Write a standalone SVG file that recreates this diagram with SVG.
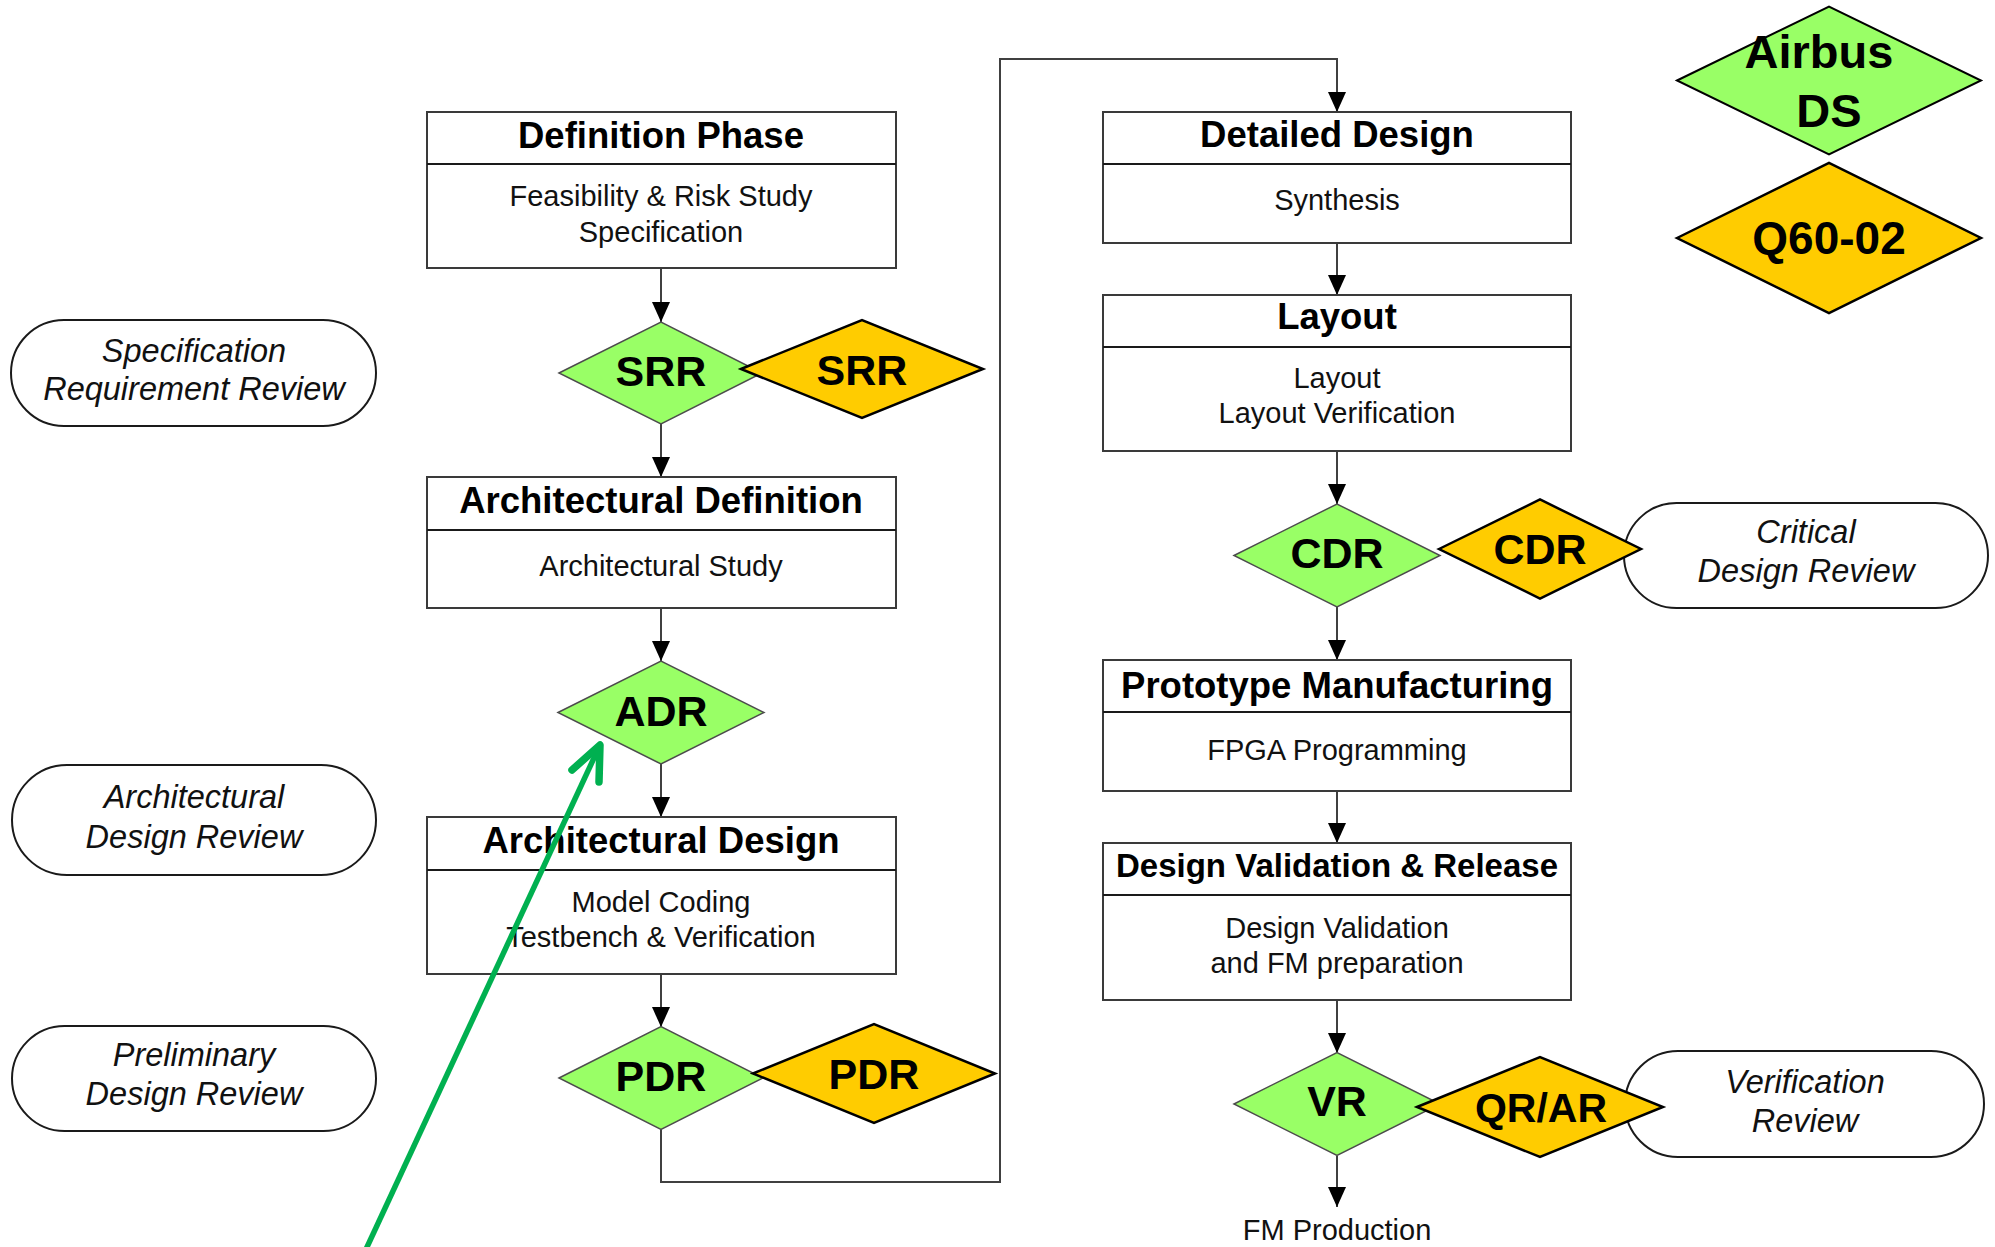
<svg xmlns="http://www.w3.org/2000/svg" width="1995" height="1247" viewBox="0 0 1995 1247">
<style>
.box{fill:#fff;stroke:#3a3a3a;stroke-width:2}
.dv{stroke:#1a1a1a;stroke-width:2}
.g{fill:#99FF66;stroke:#4d4d4d;stroke-width:1.5}
.o{fill:#FFCC00;stroke:#000;stroke-width:2.5}
.pill{fill:#fff;stroke:#1a1a1a;stroke-width:2}
.t{font-family:"Liberation Sans",Arial,sans-serif;font-weight:bold;font-size:36.5px;text-anchor:middle;fill:#000}
.b{font-family:"Liberation Sans",Arial,sans-serif;font-size:29px;text-anchor:middle;fill:#111}
.d{font-family:"Liberation Sans",Arial,sans-serif;font-weight:bold;font-size:43px;text-anchor:middle;fill:#000}
.i{font-family:"Liberation Sans",Arial,sans-serif;font-style:italic;font-size:32.5px;text-anchor:middle;fill:#111}
.c{fill:none;stroke:#404040;stroke-width:2}
</style>
<defs>
<marker id="ah" markerUnits="userSpaceOnUse" markerWidth="20" markerHeight="18" refX="20" refY="9" orient="auto">
<path d="M0,0 L20,9 L0,18 z" fill="#000"/>
</marker>
</defs>
<g id="connectors">
<line class="c" x1="661" y1="268" x2="661" y2="322" marker-end="url(#ah)"/>
<line class="c" x1="661" y1="424" x2="661" y2="477" marker-end="url(#ah)"/>
<line class="c" x1="661" y1="608" x2="661" y2="661" marker-end="url(#ah)"/>
<line class="c" x1="661" y1="764" x2="661" y2="817" marker-end="url(#ah)"/>
<line class="c" x1="661" y1="974" x2="661" y2="1027" marker-end="url(#ah)"/>
<path class="c" d="M661,1129 L661,1182 L1000,1182 L1000,59 L1337,59 L1337,112" marker-end="url(#ah)"/>
<line class="c" x1="1337" y1="243" x2="1337" y2="295" marker-end="url(#ah)"/>
<line class="c" x1="1337" y1="451" x2="1337" y2="504" marker-end="url(#ah)"/>
<line class="c" x1="1337" y1="607" x2="1337" y2="660" marker-end="url(#ah)"/>
<line class="c" x1="1337" y1="791" x2="1337" y2="843" marker-end="url(#ah)"/>
<line class="c" x1="1337" y1="1000" x2="1337" y2="1053" marker-end="url(#ah)"/>
<line class="c" x1="1337" y1="1156" x2="1337" y2="1207" marker-end="url(#ah)"/>
</g>
<g id="definition-phase">
<rect class="box" x="427" y="112" width="469" height="156"/>
<line class="dv" x1="427" y1="164" x2="896" y2="164"/>
<text class="t" x="661" y="148">Definition Phase</text>
<text class="b" x="661" y="206">Feasibility &amp; Risk Study</text>
<text class="b" x="661" y="242">Specification</text>
</g>
<g id="srr-green">
<polygon class="g" points="559,373 661,322 762,373 661,424"/>
<text class="d" x="661" y="386">SRR</text>
</g>
<g id="srr-orange">
<polygon class="o" points="741,369 862,320 983,369 862,418"/>
<text class="d" x="862" y="385">SRR</text>
</g>
<g id="arch-definition">
<rect class="box" x="427" y="477" width="469" height="131"/>
<line class="dv" x1="427" y1="530" x2="896" y2="530"/>
<text class="t" x="661" y="513">Architectural Definition</text>
<text class="b" x="661" y="576">Architectural Study</text>
</g>
<g id="adr">
<polygon class="g" points="558,712.5 661,661 764,712.5 661,764"/>
<text class="d" x="661" y="726">ADR</text>
</g>
<g id="arch-design">
<rect class="box" x="427" y="817" width="469" height="157"/>
<line class="dv" x1="427" y1="870" x2="896" y2="870"/>
<text class="t" x="661" y="853">Architectural Design</text>
<text class="b" x="661" y="912">Model Coding</text>
<text class="b" x="661" y="947">Testbench &amp; Verification</text>
</g>
<g id="pdr-green">
<polygon class="g" points="559,1078 661,1026.5 763,1078 661,1129.5"/>
<text class="d" x="661" y="1091">PDR</text>
</g>
<g id="pdr-orange">
<polygon class="o" points="753,1073.5 874,1024 995,1073.5 874,1123"/>
<text class="d" x="874" y="1089">PDR</text>
</g>
<g id="pill-srr">
<rect class="pill" x="11" y="320" width="365" height="106" rx="53"/>
<text class="i" x="194" y="362">Specification</text>
<text class="i" x="194" y="400">Requirement Review</text>
</g>
<g id="pill-adr">
<rect class="pill" x="12" y="765" width="364" height="110" rx="55"/>
<text class="i" x="194" y="808">Architectural</text>
<text class="i" x="194" y="848">Design Review</text>
</g>
<g id="pill-pdr">
<rect class="pill" x="12" y="1026" width="364" height="105" rx="52.5"/>
<text class="i" x="194" y="1066">Preliminary</text>
<text class="i" x="194" y="1105">Design Review</text>
</g>
<g id="detailed-design">
<rect class="box" x="1103" y="112" width="468" height="131"/>
<line class="dv" x1="1103" y1="164" x2="1571" y2="164"/>
<text class="t" x="1337" y="147">Detailed Design</text>
<text class="b" x="1337" y="210">Synthesis</text>
</g>
<g id="layout">
<rect class="box" x="1103" y="295" width="468" height="156"/>
<line class="dv" x1="1103" y1="347" x2="1571" y2="347"/>
<text class="t" x="1337" y="329">Layout</text>
<text class="b" x="1337" y="388">Layout</text>
<text class="b" x="1337" y="423">Layout Verification</text>
</g>
<g id="pill-cdr">
<rect class="pill" x="1624" y="503" width="364" height="105" rx="52.5"/>
<text class="i" x="1806" y="543">Critical</text>
<text class="i" x="1806" y="582">Design Review</text>
</g>
<g id="cdr-green">
<polygon class="g" points="1234,555.5 1337,504 1440,555.5 1337,607"/>
<text class="d" x="1337" y="568">CDR</text>
</g>
<g id="cdr-orange">
<polygon class="o" points="1439,549 1540,499.5 1641,549 1540,598.5"/>
<text class="d" x="1540" y="564">CDR</text>
</g>
<g id="prototype">
<rect class="box" x="1103" y="660" width="468" height="131"/>
<line class="dv" x1="1103" y1="712" x2="1571" y2="712"/>
<text class="t" x="1337" y="698">Prototype Manufacturing</text>
<text class="b" x="1337" y="760">FPGA Programming</text>
</g>
<g id="design-validation">
<rect class="box" x="1103" y="843" width="468" height="157"/>
<line class="dv" x1="1103" y1="895" x2="1571" y2="895"/>
<text class="t" x="1337" y="877" style="font-size:33px">Design Validation &amp; Release</text>
<text class="b" x="1337" y="938">Design Validation</text>
<text class="b" x="1337" y="973">and FM preparation</text>
</g>
<g id="pill-vr">
<rect class="pill" x="1625" y="1051" width="359" height="106" rx="53"/>
<text class="i" x="1805" y="1093">Verification</text>
<text class="i" x="1805" y="1132">Review</text>
</g>
<g id="vr-green">
<polygon class="g" points="1234,1104 1337,1052.5 1440,1104 1337,1155.5"/>
<text class="d" x="1337" y="1116">VR</text>
</g>
<g id="qrar-orange">
<polygon class="o" points="1417,1107 1540,1057 1663,1107 1540,1157"/>
<text class="d" x="1541" y="1122" style="font-size:41px">QR/AR</text>
</g>
<g id="fm-production">
<text class="b" x="1337" y="1240">FM Production</text>
</g>
<g id="airbus-ds">
<polygon class="g" points="1677,80.5 1829,6.5 1981,80.5 1829,154.5" style="stroke:#000;stroke-width:2"/>
<text class="d" x="1819" y="68" style="font-size:47px">Airbus</text>
<text class="d" x="1829" y="127" style="font-size:47px">DS</text>
</g>
<g id="q60-02">
<polygon class="o" points="1677,238 1829,163 1981,238 1829,313"/>
<text class="d" x="1829" y="254" style="font-size:46px">Q60-02</text>
</g>
<g id="annotation-arrow">
<line x1="361" y1="1260" x2="600" y2="745" stroke="#00B050" stroke-width="5.5"/>
<path d="M572,770 L600,745 L599,782" fill="none" stroke="#00B050" stroke-width="7.5" stroke-linecap="round" stroke-linejoin="round"/>
</g>
</svg>
